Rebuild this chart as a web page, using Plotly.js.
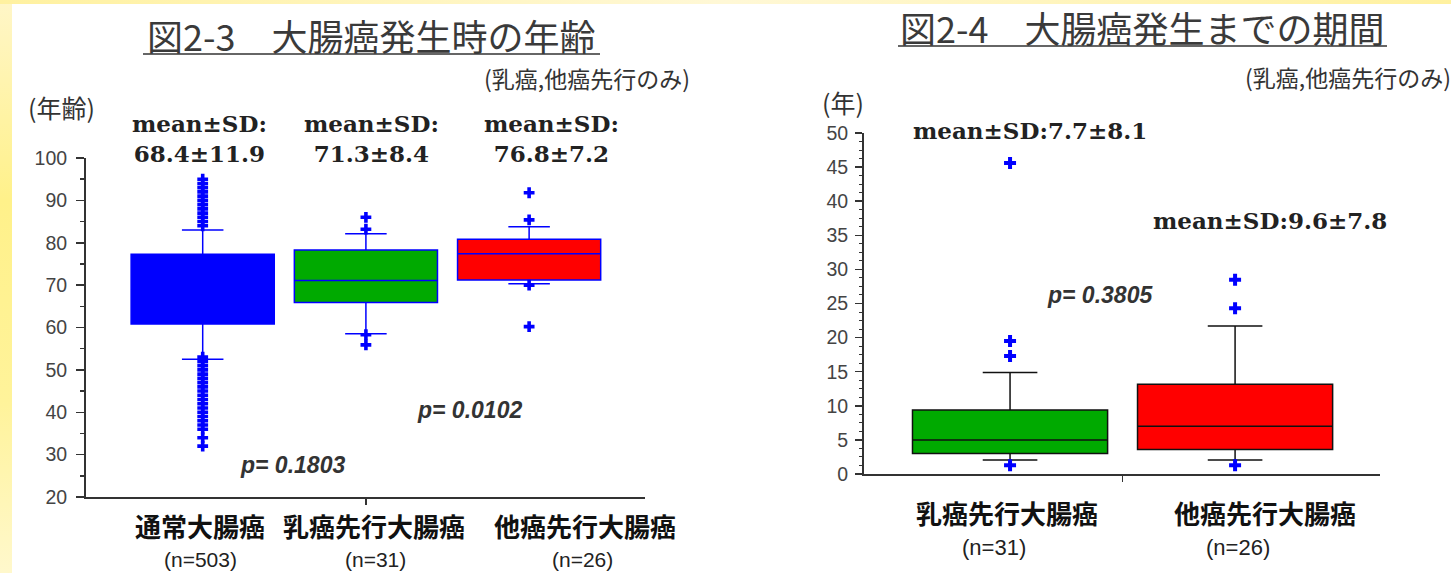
<!DOCTYPE html>
<html>
<head>
<meta charset="utf-8">
<script src="https://cdn.plot.ly/plotly-3.0.1.min.js"></script>
<style>
  html, body { margin: 0; padding: 0; background: #ffffff; }
  #bgLeft { position: absolute; left: 0; top: 0; width: 12px; height: 573px;
    background: linear-gradient(to bottom, #fff6c8 0%, #fff18a 35%, #fff39a 70%, #fff8cc 100%); }
  #bgTop { position: absolute; left: 0; top: 0; width: 1451px; height: 4px;
    background: linear-gradient(to right, #fff1a0, #fff8d6 50%, #fff1a0); }
  #chart { position: absolute; left: 0; top: 0; width: 1451px; height: 573px; }
</style>
</head>
<body>
<div id="bgLeft"></div>
<div id="bgTop"></div>
<div id="chart"></div>
<script>
// ---------- Data: 図2-3 大腸癌発生時の年齢 ----------
const ageCategories = ['通常大腸癌', '乳癌先行大腸癌', '他癌先行大腸癌'];
const ageN = [503, 31, 26];
const ageQ1 = [60.8, 65.9, 71.2];
const ageMedian = [69.0, 71.1, 77.4];
const ageQ3 = [77.3, 78.3, 80.8];
const ageLowerFence = [52.5, 58.5, 70.3];
const ageUpperFence = [83.0, 82.1, 83.8];
const ageMean = ['68.4', '71.3', '76.8'];
const ageSD = ['11.9', '8.4', '7.2'];
const ageOutliers = [
  [84, 85, 86, 87, 88, 89, 90, 91, 92, 93, 94, 95,
   53, 52, 51, 50, 49, 48, 47, 46, 45, 44, 43, 42, 41, 40, 39, 38, 37, 36, 34, 32],
  [86.0, 83.2, 58.3, 55.9],
  [91.8, 85.4, 70.0, 60.2]
];
const agePValues = ['0.1803', '0.0102'];

// ---------- Data: 図2-4 大腸癌発生までの期間 ----------
const timeCategories = ['乳癌先行大腸癌', '他癌先行大腸癌'];
const timeN = [31, 26];
const timeQ1 = [3.0, 3.6];
const timeMedian = [5.0, 7.0];
const timeQ3 = [9.4, 13.15];
const timeLowerFence = [2.05, 2.05];
const timeUpperFence = [14.9, 21.7];
const timeMean = ['7.7', '9.6'];
const timeSD = ['8.1', '7.8'];
const timeOutliers = [
  [45.6, 19.5, 17.3, 1.3],
  [28.5, 24.3, 1.3]
];
const timePValue = '0.3805';

// ---------- Styles ----------
const ageFill = ['#0000ff', '#00aa00', '#ff0000'];
const ageLine = ['#0000ff', '#0000ff', '#0000ff'];
const timeFill = ['#00aa00', '#ff0000'];
const timeLine = ['#111111', '#111111'];

const W = 1451, H = 573;
const px = x => x / W;
const py = y => 1 - y / H;

const traces = [];
ageCategories.forEach((c, i) => {
  traces.push({
    type: 'box', name: c, xaxis: 'x', yaxis: 'y',
    x: [i], q1: [ageQ1[i]], median: [ageMedian[i]], q3: [ageQ3[i]],
    lowerfence: [ageLowerFence[i]], upperfence: [ageUpperFence[i]],
    width: 0.877, whiskerwidth: 0.29, boxpoints: false,
    fillcolor: ageFill[i], line: { color: ageLine[i], width: 1.5 },
    hoverinfo: 'skip', showlegend: false
  });
  traces.push({
    type: 'scatter', mode: 'markers', xaxis: 'x', yaxis: 'y',
    x: ageOutliers[i].map(() => i), y: ageOutliers[i],
    marker: { symbol: 'cross', size: 9, color: '#0000ff' },
    hoverinfo: 'skip', showlegend: false
  });
});
timeCategories.forEach((c, i) => {
  traces.push({
    type: 'box', name: c, xaxis: 'x2', yaxis: 'y2',
    x: [i], q1: [timeQ1[i]], median: [timeMedian[i]], q3: [timeQ3[i]],
    lowerfence: [timeLowerFence[i]], upperfence: [timeUpperFence[i]],
    width: 0.867, whiskerwidth: 0.28, boxpoints: false,
    fillcolor: timeFill[i], line: { color: timeLine[i], width: 1.5 },
    hoverinfo: 'skip', showlegend: false
  });
  traces.push({
    type: 'scatter', mode: 'markers', xaxis: 'x2', yaxis: 'y2',
    x: timeOutliers[i].map(() => i), y: timeOutliers[i],
    marker: { symbol: 'cross', size: 10, color: '#0000ff' },
    hoverinfo: 'skip', showlegend: false
  });
});

const axisCommon = {
  showline: true, linecolor: '#333333', linewidth: 2, showgrid: false, zeroline: false,
  ticks: 'outside', tickcolor: '#333333', tickwidth: 1.5, fixedrange: true
};

const tickFont = { family: 'Liberation Sans, Arial, sans-serif', size: 19.5, color: '#444444' };
const jp = 'Noto Sans CJK JP, sans-serif';
const serif = 'DejaVu Serif, serif';
const sans = 'Liberation Sans, Arial, sans-serif';

const annotations = [];
function ann(text, x, y, font, extra) {
  annotations.push(Object.assign({
    text: text, xref: 'paper', yref: 'paper', x: px(x), y: py(y),
    xanchor: 'center', yanchor: 'middle', showarrow: false, font: font
  }, extra || {}));
}

// Titles
ann('図2-3　大腸癌発生時の年齢', 371, 35, { family: jp, size: 36, color: '#3a3a3a' });
ann('図2-4　大腸癌発生までの期間', 1142, 27, { family: jp, size: 36, color: '#3a3a3a' });
// Notes
ann('(乳癌,他癌先行のみ)', 587, 78, { family: jp, size: 23, color: '#333333' });
ann('(乳癌,他癌先行のみ)', 1348, 77, { family: jp, size: 23, color: '#333333' });
ann('(年齢)', 61, 107, { family: jp, size: 25, color: '#333333' });
ann('(年)', 843, 102, { family: jp, size: 25, color: '#333333' });

// mean ± SD
const ageMeanX = [199, 372, 551];
ageCategories.forEach((c, i) => {
  ann('<b>mean±SD:<br>' + ageMean[i] + '±' + ageSD[i] + '</b>', ageMeanX[i], 138,
      { family: serif, size: 23, color: '#222222' });
});
const timeMeanPos = [[1030, 130], [1270, 220]];
timeCategories.forEach((c, i) => {
  ann('<b>mean±SD:' + timeMean[i] + '±' + timeSD[i] + '</b>', timeMeanPos[i][0], timeMeanPos[i][1],
      { family: serif, size: 23, color: '#222222' });
});

// p-values
const pFont = { family: sans, size: 23, color: '#333333' };
ann('<b><i>p= ' + agePValues[0] + '</i></b>', 292, 465, pFont);
ann('<b><i>p= ' + agePValues[1] + '</i></b>', 469, 410, pFont);
ann('<b><i>p= ' + timePValue + '</i></b>', 1100, 295, pFont);

// Category labels
const catFont = { family: jp, size: 26, color: '#111111' };
const nFontL = { family: sans, size: 21, color: '#222222' };
const nFontR = { family: sans, size: 22, color: '#222222' };
const ageLabelX = [200, 374, 585];
const ageNX = [200, 375, 582];
ageCategories.forEach((c, i) => {
  ann('<b>' + c + '</b>', ageLabelX[i], 525, catFont);
  ann('(n=' + ageN[i] + ')', ageNX[i], 559, nFontL);
});
const timeLabelX = [1007, 1265];
const timeNX = [994, 1238];
timeCategories.forEach((c, i) => {
  ann('<b>' + c + '</b>', timeLabelX[i], 512, catFont);
  ann('(n=' + timeN[i] + ')', timeNX[i], 547, nFontR);
});

const shapes = [
  { type: 'line', xref: 'paper', yref: 'paper', x0: px(143), x1: px(600), y0: py(54), y1: py(54),
    line: { color: '#333333', width: 1.5 } },
  { type: 'line', xref: 'paper', yref: 'paper', x0: px(898), x1: px(1387), y0: py(46), y1: py(46),
    line: { color: '#333333', width: 1.5 } }
];

const layout = {
  width: W, height: H, autosize: false,
  margin: { l: 0, r: 0, t: 0, b: 0, pad: 0 },
  paper_bgcolor: 'rgba(0,0,0,0)', plot_bgcolor: 'rgba(0,0,0,0)',
  showlegend: false, boxmode: 'overlay',
  xaxis: Object.assign({}, axisCommon, {
    domain: [px(86), px(645)], anchor: 'y', range: [-0.715, 2.71],
    tickmode: 'array', tickvals: [1], ticktext: [''], ticklen: 6
  }),
  yaxis: Object.assign({}, axisCommon, {
    domain: [py(497), py(158)], anchor: 'x', range: [20, 100],
    tick0: 20, dtick: 10, ticklen: 8, tickfont: tickFont, ticklabelstandoff: 5,
    minor: { dtick: 5, ticks: 'outside', ticklen: 4, tickcolor: '#333333', tickwidth: 1.5, showgrid: false }
  }),
  xaxis2: Object.assign({}, axisCommon, {
    domain: [px(864), px(1380)], anchor: 'y2', range: [-0.649, 1.644],
    tickmode: 'array', tickvals: [0.5], ticktext: [''], ticklen: 6
  }),
  yaxis2: Object.assign({}, axisCommon, {
    domain: [py(474), py(133)], anchor: 'x2', range: [0, 50],
    tick0: 0, dtick: 5, ticklen: 7, tickfont: tickFont, ticklabelstandoff: 3,
    minor: { dtick: 1.25, ticks: 'outside', ticklen: 3, tickcolor: '#333333', tickwidth: 1, showgrid: false }
  }),
  annotations: annotations,
  shapes: shapes
};

Plotly.newPlot('chart', traces, layout, { displayModeBar: false, staticPlot: true });
</script>
</body>
</html>
